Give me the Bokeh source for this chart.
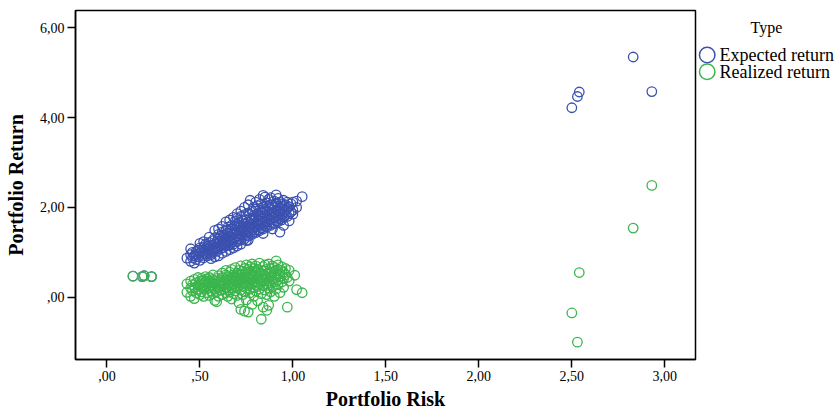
from bokeh.plotting import figure
from bokeh.models import FixedTicker, Range1d
from bokeh.layouts import row
from bokeh.embed import file_html
from bokeh.resources import INLINE
from bokeh.core.properties import value

# ---------------- data ----------------
series_names = ["Expected return", "Realized return"]
legend_title = "Type"
x_title = "Portfolio Risk"
y_title = "Portfolio Return"

x_ticks = [0.0, 0.5, 1.0, 1.5, 2.0, 2.5, 3.0]
x_tick_labels = [",00", ",50", "1,00", "1,50", "2,00", "2,50", "3,00"]
y_ticks = [0.0, 2.0, 4.0, 6.0]
y_tick_labels = [",00", "2,00", "4,00", "6,00"]

# Expected return: main cluster, risk -> list of returns
exp_cluster = {
    0.43: [0.87], 0.45: [0.80, 0.95, 1.08], 0.46: [0.88, 1.00], 0.47: [0.76, 0.92],
    0.48: [0.84, 0.96, 1.02], 0.49: [0.90, 1.05], 0.50: [0.82, 0.98, 1.10, 1.20],
    0.51: [0.93, 1.04], 0.52: [0.88, 1.00, 1.12, 1.24], 0.53: [0.96, 1.08, 1.18],
    0.54: [0.92, 1.02, 1.14], 0.55: [0.98, 1.08, 1.22, 1.34], 0.56: [0.86, 0.95, 1.04, 1.16],
    0.57: [1.00, 1.10, 1.26], 0.58: [0.90, 1.06, 1.18, 1.32, 1.49], 0.59: [1.02, 1.12, 1.24],
    0.60: [0.92, 1.08, 1.20, 1.30, 1.40, 1.52], 0.61: [1.15, 1.26, 1.36],
    0.62: [0.98, 1.10, 1.22, 1.32, 1.45, 1.58], 0.63: [1.18, 1.28, 1.38],
    0.64: [1.02, 1.14, 1.24, 1.34, 1.50, 1.68], 0.65: [1.20, 1.30, 1.42, 1.56],
    0.66: [1.06, 1.16, 1.26, 1.36, 1.48, 1.72], 0.67: [1.22, 1.34, 1.44, 1.60],
    0.68: [1.10, 1.18, 1.28, 1.40, 1.52, 1.78], 0.69: [1.32, 1.46, 1.58, 1.70],
    0.70: [1.14, 1.24, 1.36, 1.48, 1.62, 1.76, 1.86], 0.71: [1.30, 1.42, 1.54, 1.66],
    0.72: [1.18, 1.28, 1.38, 1.50, 1.60, 1.80, 1.92], 0.73: [1.34, 1.46, 1.56, 1.70],
    0.74: [1.30, 1.42, 1.52, 1.64, 1.84, 2.00], 0.75: [1.26, 1.38, 1.48, 1.58, 1.72],
    0.76: [1.27, 1.36, 1.46, 1.56, 1.68, 1.88, 2.06], 0.77: [1.42, 1.54, 1.64, 1.76, 2.16],
    0.78: [1.40, 1.50, 1.62, 1.74, 1.92], 0.79: [1.46, 1.58, 1.70, 1.82, 2.00],
    0.80: [1.44, 1.56, 1.66, 1.78, 1.96, 2.12], 0.81: [1.50, 1.62, 1.72, 1.86, 2.04],
    0.82: [1.48, 1.60, 1.70, 1.82, 1.94, 2.18], 0.83: [1.54, 1.66, 1.78, 1.90, 2.08],
    0.84: [1.42, 1.52, 1.64, 1.76, 1.88, 2.00, 2.27], 0.85: [1.58, 1.70, 1.84, 1.96, 2.23],
    0.86: [1.56, 1.68, 1.80, 1.92, 2.10], 0.87: [1.62, 1.74, 1.86, 2.02, 2.18],
    0.88: [1.60, 1.72, 1.84, 1.98, 2.22], 0.89: [1.52, 1.66, 1.78, 1.90, 2.06],
    0.90: [1.64, 1.76, 1.88, 2.00, 2.14], 0.91: [1.70, 1.82, 1.94, 2.10, 2.28],
    0.92: [1.68, 1.80, 1.92, 2.04, 2.20], 0.93: [1.45, 1.74, 1.86, 1.98, 2.12],
    0.94: [1.72, 1.84, 1.96, 2.08], 0.95: [1.60, 1.78, 1.90, 2.02, 2.16],
    0.96: [1.82, 1.94, 2.06], 0.97: [1.80, 1.98, 2.12], 0.98: [1.70, 1.86, 2.02],
    0.99: [1.90, 2.08], 1.00: [1.85, 1.94, 2.12], 1.02: [2.00, 2.14], 1.05: [2.24],
}
exp_left_risk = [0.14, 0.19, 0.20, 0.24]
exp_left_return = [0.47, 0.46, 0.48, 0.46]
exp_out_risk = [2.50, 2.53, 2.54, 2.83, 2.93]
exp_out_return = [4.22, 4.47, 4.57, 5.35, 4.58]

# Realized return: main cluster, risk -> list of returns
real_cluster = {
    0.43: [0.11, 0.30], 0.45: [0.02, 0.20, 0.36], 0.46: [0.14, 0.28],
    0.47: [-0.03, 0.22, 0.40], 0.48: [0.10, 0.32], 0.49: [0.18, 0.26, 0.44],
    0.50: [0.06, 0.30, 0.36], 0.51: [0.12, 0.22, 0.42], 0.52: [0.02, 0.18, 0.28, 0.38],
    0.53: [0.24, 0.34, 0.46], 0.54: [0.10, 0.30, 0.40], 0.55: [0.04, 0.20, 0.36, 0.44],
    0.56: [0.14, 0.26, 0.32], 0.57: [0.08, 0.22, 0.40, 0.50], 0.58: [-0.07, 0.18, 0.30, 0.36],
    0.59: [-0.10, 0.12, 0.26, 0.42], 0.60: [0.02, 0.20, 0.34, 0.48],
    0.61: [0.16, 0.28, 0.38], 0.62: [0.06, 0.24, 0.32, 0.44, 0.54],
    0.63: [0.18, 0.28, 0.36], 0.64: [0.10, 0.22, 0.40, 0.50, 0.60],
    0.65: [0.02, 0.16, 0.30, 0.46], 0.66: [0.12, 0.26, 0.38, 0.56],
    0.67: [-0.04, 0.20, 0.34, 0.44, 0.62], 0.68: [0.08, 0.30, 0.40, 0.50],
    0.69: [0.14, 0.24, 0.36, 0.46, 0.66], 0.70: [0.04, 0.20, 0.32, 0.42, 0.54],
    0.71: [-0.12, 0.28, 0.38, 0.48, 0.60], 0.72: [-0.27, 0.16, 0.36, 0.44, 0.52, 0.70],
    0.73: [0.06, 0.24, 0.32, 0.40, 0.58], 0.74: [-0.31, 0.12, 0.30, 0.46, 0.50, 0.64],
    0.75: [-0.06, 0.20, 0.38, 0.56, 0.72], 0.76: [-0.33, 0.26, 0.34, 0.44, 0.62],
    0.77: [0.10, 0.18, 0.40, 0.52, 0.68], 0.78: [-0.16, 0.30, 0.46, 0.58, 0.74],
    0.79: [0.02, 0.22, 0.36, 0.50, 0.64], 0.80: [0.14, 0.28, 0.42, 0.56, 0.70],
    0.81: [-0.08, 0.24, 0.34, 0.48, 0.62], 0.82: [0.18, 0.30, 0.40, 0.54, 0.76],
    0.83: [-0.49, 0.08, 0.36, 0.46, 0.60], 0.84: [-0.22, 0.26, 0.42, 0.52, 0.68],
    0.85: [0.16, 0.38, 0.48, 0.58, 0.72], 0.86: [-0.29, 0.06, 0.30, 0.44, 0.62],
    0.87: [-0.18, 0.20, 0.36, 0.54, 0.74], 0.88: [0.12, 0.28, 0.46, 0.64],
    0.89: [0.24, 0.40, 0.56, 0.70], 0.90: [0.02, 0.34, 0.50, 0.66],
    0.91: [0.18, 0.44, 0.58, 0.81], 0.92: [0.28, 0.38, 0.62, 0.72],
    0.93: [0.10, 0.46, 0.52], 0.94: [0.34, 0.60, 0.68], 0.95: [0.22, 0.42, 0.56],
    0.96: [0.50, 0.64], 0.97: [-0.22, 0.44], 0.98: [0.36, 0.60],
    1.01: [0.49], 1.02: [0.17], 1.05: [0.10],
}
real_left_risk = [0.14, 0.19, 0.20, 0.24]
real_left_return = [0.47, 0.46, 0.48, 0.46]
real_out_risk = [2.50, 2.53, 2.54, 2.83, 2.93]
real_out_return = [-0.35, -1.00, 0.55, 1.54, 2.49]


def flatten(cluster, left_x, left_y, out_x, out_y):
    xs, ys = [], []
    for x, yl in cluster.items():
        for y in yl:
            xs.append(x)
            ys.append(y)
    return xs + left_x + out_x, ys + left_y + out_y


exp_risk, exp_return = flatten(exp_cluster, exp_left_risk, exp_left_return,
                               exp_out_risk, exp_out_return)
real_risk, real_return = flatten(real_cluster, real_left_risk, real_left_return,
                                 real_out_risk, real_out_return)

# ---------------- styling ----------------
BLUE = "#3b51b0"
GREEN = "#3bb54c"
SERIF = "Liberation Serif"

p = figure(width=697, height=416,
           x_range=Range1d(-0.169, 3.165), y_range=Range1d(-1.386, 6.385),
           output_backend="svg", toolbar_location=None,
           min_border_left=75, min_border_right=2, min_border_top=10,
           min_border_bottom=57)
p.xgrid.visible = False
p.ygrid.visible = False
p.outline_line_color = "black"
p.outline_line_width = 1.5
p.background_fill_color = "white"
p.border_fill_color = "white"

p.scatter(exp_risk, exp_return, marker="circle", size=9.5, fill_color=None,
          line_color=BLUE, line_width=1.3)
p.scatter(real_risk, real_return, marker="circle", size=9.5, fill_color=None,
          line_color=GREEN, line_width=1.3)

p.xaxis.ticker = FixedTicker(ticks=x_ticks)
p.xaxis.major_label_overrides = dict(zip(x_ticks, x_tick_labels))
p.yaxis.ticker = FixedTicker(ticks=y_ticks)
p.yaxis.major_label_overrides = dict(zip(y_ticks, y_tick_labels))

for ax in (p.xaxis[0], p.yaxis[0]):
    ax.axis_line_color = "black"
    ax.axis_line_width = 1.5
    ax.major_tick_line_color = "black"
    ax.major_tick_line_width = 1.5
    ax.major_tick_out = 8
    ax.major_tick_in = 0
    ax.minor_tick_line_color = None
    ax.major_label_text_font = SERIF
    ax.major_label_text_font_size = "14px"
    ax.major_label_text_color = "black"
    ax.axis_label_text_font = SERIF
    ax.axis_label_text_font_style = "bold"
    ax.axis_label_text_font_size = "20px"
    ax.axis_label_text_color = "black"

p.xaxis.axis_label = x_title
p.yaxis.axis_label = y_title
p.xaxis.major_label_standoff = 3
p.yaxis.major_label_standoff = 3
p.xaxis.axis_label_standoff = 4
p.yaxis.axis_label_standoff = 10

# ---------------- legend panel ----------------
lf = figure(width=143, height=416, x_range=Range1d(0, 143), y_range=Range1d(416, 0),
            output_backend="svg", toolbar_location=None,
            min_border=0, min_border_left=0, min_border_right=0,
            min_border_top=0, min_border_bottom=0)
lf.axis.visible = False
lf.xgrid.visible = False
lf.ygrid.visible = False
lf.outline_line_color = None
lf.background_fill_color = "white"
lf.border_fill_color = "white"

lf.text(x=[69], y=[20], text=[legend_title], text_align="center",
        text_baseline="middle", text_font=value(SERIF), text_font_size="16px",
        text_color="black")
lf.scatter(x=[9.7, 9.7], y=[53, 73], marker="circle", size=15.5, fill_color=None,
           line_color=[BLUE, GREEN], line_width=1.5)
lf.text(x=[22, 22], y=[53, 73], text=series_names, text_align="left",
        text_baseline="middle", text_font=value(SERIF), text_font_size="18px",
        text_color="black")

layout = row(p, lf)
open("out.html", "w").write(file_html(layout, INLINE))
